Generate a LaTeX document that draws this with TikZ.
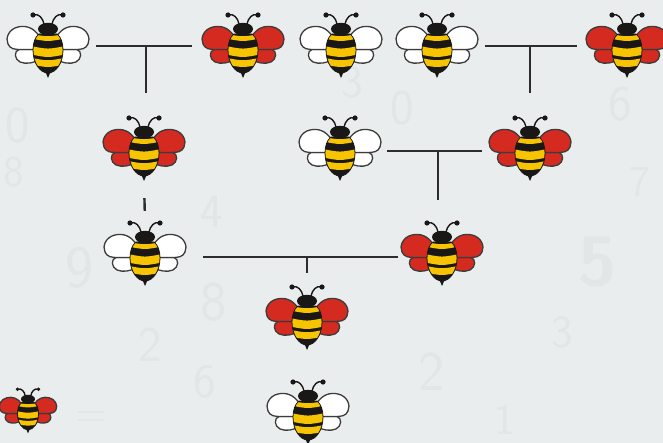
\documentclass[tikz,border=0pt]{standalone}
\usetikzlibrary{calc}

\definecolor{paper}{RGB}{233,237,237}
\definecolor{ghost}{RGB}{226,230,231}
\definecolor{wingred}{RGB}{212,42,32}
\definecolor{beeyellow}{RGB}{246,196,0}
\definecolor{beeblack}{RGB}{26,24,22}
\definecolor{wingline}{RGB}{60,60,60}
\definecolor{linkgray}{RGB}{45,45,45}

\tikzset{
  % one bee; the argument is the wing colour
  pics/bee/.style={code={
    \foreach \s in {1,-1}{
      \begin{scope}[xscale=\s]
        % lower wing
        \filldraw[fill=#1, draw=wingline, line width=1.3pt, line join=round]
          (-10,3.5) -- (-29,3.5) .. controls (-34,5) and (-34,13) .. (-28,16)
          .. controls (-22,18.5) and (-14,17) .. (-10,14) -- cycle;
        % upper wing
        \filldraw[fill=#1, draw=wingline, line width=1.3pt, line join=round]
          (-9,-10) .. controls (-14,-18) and (-22,-21) .. (-30,-19)
          .. controls (-39,-17) and (-43,-8) .. (-40,-2)
          .. controls (-38,3) and (-33,3.5) .. (-28,3.5) -- (-10,3.5) -- cycle;
        % antenna
        \draw[beeblack, line width=1.4pt, line cap=round]
          (-4,-22) .. controls (-5,-28) and (-10,-33) .. (-14,-31);
        \fill[beeblack] (-15,-31) circle (2.6);
      \end{scope}
    }
    % stinger
    \fill[beeblack] (-3,25) -- (3,25) -- (0,32) -- cycle;
    % abdomen with its stripes
    \begin{scope}
      \path[clip] (-9,-12) -- (9,-12) .. controls (13,-9) and (15,-3) .. (15,4)
        .. controls (15,17) and (8,27) .. (0,27)
        .. controls (-8,27) and (-15,17) .. (-15,4)
        .. controls (-15,-3) and (-13,-9) .. (-9,-12) -- cycle;
      \fill[beeblack] (-16,-13) rectangle (16,28);
      \foreach \ya/\yb in {-12/-7.3, 0.3/8.7, 12/18.7}{
        \fill[beeyellow] (-16,\ya) .. controls (0,\ya+3) .. (16,\ya)
          -- (16,\yb) .. controls (0,\yb+3) .. (-16,\yb) -- cycle;
      }
    \end{scope}
    \draw[beeblack, line width=0.8pt] (-9,-12) -- (9,-12) .. controls (13,-9) and (15,-3) .. (15,4)
        .. controls (15,17) and (8,27) .. (0,27)
        .. controls (-8,27) and (-15,17) .. (-15,4)
        .. controls (-15,-3) and (-13,-9) .. (-9,-12) -- cycle;
    % head
    \fill[beeblack] (0,-17) ellipse [x radius=10, y radius=6.2];
  }},
  beeslot/.style={minimum width=82pt, minimum height=66pt, inner sep=0pt},
  link/.style={draw=linkgray, line width=2.4pt},
  digit/.style={text=ghost, font=\sffamily\fontsize{#1}{#1}\selectfont, inner sep=0pt},
}

\begin{document}
\begin{tikzpicture}[x=1pt, y=-1pt]
  % canvas
  \fill[paper] (0,0) rectangle (663,443);
  \useasboundingbox (0,0) rectangle (663,443);

  % faint numerals in the background
  \node[digit=52] (g1) at (18,125) {0};
  \node[digit=44] (g2) at (14,172) {8};
  \node[digit=60] (g3) at (80,268) {9};
  \node[digit=48] (g4) at (212,212) {4};
  \node[digit=56] (g5) at (214,302) {8};
  \node[digit=50] (g6) at (150,345) {2};
  \node[digit=46] (g7) at (352,82) {3};
  \node[digit=50] (g8) at (402,108) {0};
  \node[digit=70, font=\sffamily\bfseries\fontsize{70}{70}\selectfont] (g9) at (598,262) {5};
  \node[digit=56] (g10) at (432,372) {2};
  \node[digit=50] (g11) at (620,104) {6};
  \node[digit=44] (g12) at (640,182) {7};
  \node[digit=46] (g13) at (562,332) {3};
  \node[digit=44] (g14) at (92,420) {=};
  \node[digit=48] (g15) at (205,382) {6};
  \node[digit=44] (g16) at (505,420) {1};

  % bee positions
  \node[beeslot] (a1) at (48,46) {};
  \node[beeslot] (a2) at (243,46) {};
  \node[beeslot] (a3) at (341,46) {};
  \node[beeslot] (a4) at (437,46) {};
  \node[beeslot] (a5) at (627,46) {};
  \node[beeslot] (b1) at (144,149) {};
  \node[beeslot] (b2) at (340,149) {};
  \node[beeslot] (b3) at (530,149) {};
  \node[beeslot] (c1) at (145,254) {};
  \node[beeslot] (c2) at (442,254) {};
  \node[beeslot] (d1) at (307,318) {};
  \node[beeslot] (e1) at (308,413) {};
  \node[beeslot, minimum width=58pt, minimum height=46pt] (s1) at (28,411) {};

  % bees
  \pic at (a1) {bee=white};
  \pic at (a2) {bee=wingred};
  \pic at (a3) {bee=white};
  \pic at (a4) {bee=white};
  \pic at (a5) {bee=wingred};
  \pic at (b1) {bee=wingred};
  \pic at (b2) {bee=white};
  \pic at (b3) {bee=wingred};
  \pic at (c1) {bee=white};
  \pic at (c2) {bee=wingred};
  \pic at (d1) {bee=wingred};
  \pic at (e1) {bee=white};
  \pic[scale=0.7] at (s1) {bee=wingred};

  % ends of the couple lines
  \coordinate (m1) at ([xshift=7pt]a1.east);
  \coordinate (f1) at ([xshift=-10pt]a2.west);
  \coordinate (m2) at ([xshift=7pt]a4.east);
  \coordinate (f2) at ([xshift=-9pt]a5.west);
  \coordinate (m3) at ([shift={(6pt,-2pt)}]b2.east);
  \coordinate (f3) at ([shift={(-7pt,-2pt)}]b3.west);
  \coordinate (m4) at ([shift={(17pt,-3pt)}]c1.east);
  \coordinate (f4) at ([shift={(-3pt,-3pt)}]c2.west);

  % family links
  \draw[link] (m1) -- (f1);
  \draw[link] ([xshift=2pt]b1.north |- m1) -- ([shift={(2pt,23pt)}]b1.north);

  \draw[link] (m2) -- (f2);
  \draw[link] (b3.north |- m2) -- ([yshift=23pt]b3.north);

  \draw[link] (m3) -- (f3);
  \draw[link] ([xshift=-4pt]c2.north |- m3) -- ([shift={(-4pt,21pt)}]c2.north);

  \draw[link, shorten <=16pt, shorten >=10pt] (b1.south) -- (c1.north);

  \draw[link] (m4) -- (f4);
  \draw[link] (d1.north |- m4) -- ([yshift=12pt]d1.north);
\end{tikzpicture}
\end{document}
